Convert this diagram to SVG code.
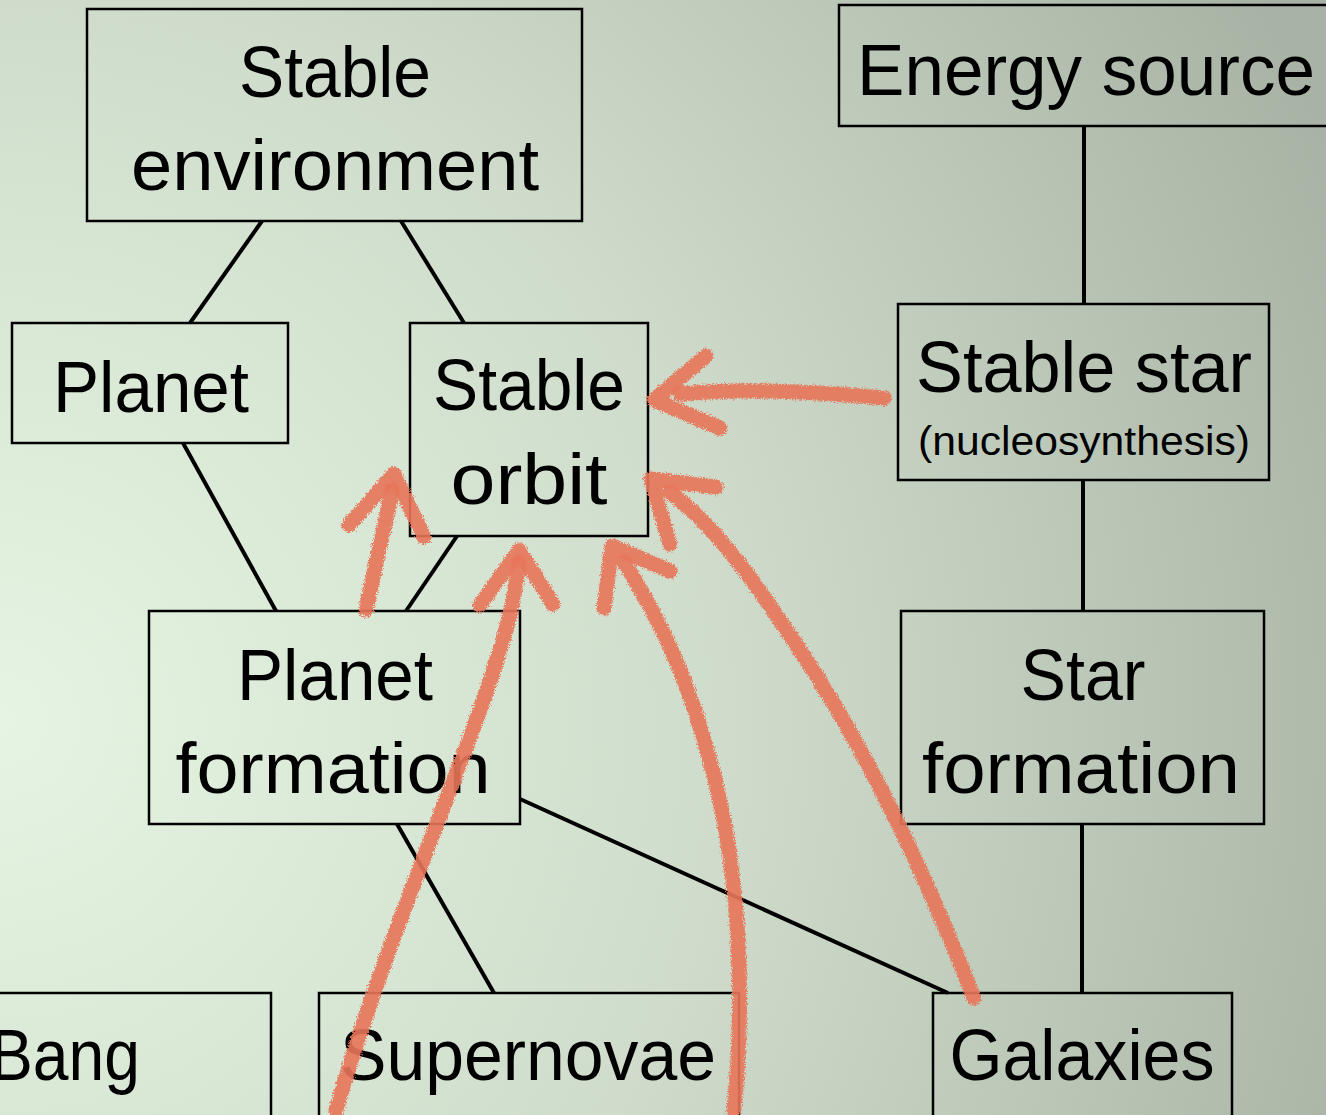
<svg xmlns="http://www.w3.org/2000/svg" width="1326" height="1115" viewBox="0 0 1326 1115">
<defs>
<radialGradient id="bg" gradientUnits="userSpaceOnUse" cx="0" cy="720" r="1450">
<stop offset="0" stop-color="#e6f5e3"/>
<stop offset="0.5" stop-color="#cfdccb"/>
<stop offset="1" stop-color="#a8b3a5"/>
</radialGradient>
<filter id="chalk" filterUnits="userSpaceOnUse" x="0" y="0" width="1326" height="1115">
<feTurbulence type="fractalNoise" baseFrequency="0.9" numOctaves="2" seed="3" result="n"/>
<feDisplacementMap in="SourceGraphic" in2="n" scale="7" xChannelSelector="R" yChannelSelector="G"/>
</filter>
<style>
.box{fill:none;stroke:#000;stroke-width:2.5}
.t{font-family:"Liberation Sans",Arial,sans-serif;font-size:72px;fill:#000;text-anchor:middle}
.s{font-family:"Liberation Sans",Arial,sans-serif;font-size:40px;fill:#000;text-anchor:middle}
.ln{stroke:#000;stroke-width:4;fill:none}
.ar{stroke:#e8765a;stroke-opacity:0.9;stroke-width:15;fill:none;stroke-linecap:round;stroke-linejoin:round;filter:url(#chalk)}
</style>
</defs>
<rect x="0" y="0" width="1326" height="1115" fill="url(#bg)"/>

<g id="connectors">
<line class="ln" x1="262" y1="221" x2="190" y2="323"/>
<line class="ln" x1="401" y1="221" x2="464" y2="323"/>
<line class="ln" x1="1084" y1="126" x2="1084" y2="304"/>
<line class="ln" x1="183" y1="443" x2="276" y2="611"/>
<line class="ln" x1="457" y1="536" x2="406" y2="611"/>
<line class="ln" x1="1083" y1="480" x2="1083" y2="611"/>
<line class="ln" x1="397" y1="824" x2="494" y2="993"/>
<line class="ln" x1="520" y1="799" x2="948" y2="993"/>
<line class="ln" x1="1082" y1="824" x2="1082" y2="993"/>
</g>

<g id="node-stable-environment">
<rect class="box" x="87" y="9" width="495" height="212"/>
<text class="t" x="335" y="97" textLength="192" lengthAdjust="spacingAndGlyphs">Stable</text>
<text class="t" x="335" y="190" textLength="408" lengthAdjust="spacingAndGlyphs">environment</text>
</g>
<g id="node-energy-source">
<rect class="box" x="839" y="5" width="495" height="121"/>
<text class="t" x="1086" y="95" textLength="458" lengthAdjust="spacingAndGlyphs">Energy source</text>
</g>
<g id="node-planet">
<rect class="box" x="12" y="323" width="276" height="120"/>
<text class="t" x="151" y="412" textLength="196" lengthAdjust="spacingAndGlyphs">Planet</text>
</g>
<g id="node-stable-orbit">
<rect class="box" x="410" y="323" width="238" height="213"/>
<text class="t" x="529" y="410" textLength="192" lengthAdjust="spacingAndGlyphs">Stable</text>
<text class="t" x="529" y="504" textLength="157" lengthAdjust="spacingAndGlyphs">orbit</text>
</g>
<g id="node-stable-star">
<rect class="box" x="898" y="304" width="371" height="176"/>
<text class="t" x="1084" y="392" textLength="336" lengthAdjust="spacingAndGlyphs">Stable star</text>
<text class="s" x="1084" y="455" textLength="332" lengthAdjust="spacingAndGlyphs">(nucleosynthesis)</text>
</g>
<g id="node-planet-formation">
<rect class="box" x="149" y="611" width="371" height="213"/>
<text class="t" x="335" y="700" textLength="196" lengthAdjust="spacingAndGlyphs">Planet</text>
<text class="t" x="333" y="793" textLength="315" lengthAdjust="spacingAndGlyphs">formation</text>
</g>
<g id="node-star-formation">
<rect class="box" x="901" y="611" width="363" height="213"/>
<text class="t" x="1083" y="700" textLength="125" lengthAdjust="spacingAndGlyphs">Star</text>
<text class="t" x="1081" y="793" textLength="318" lengthAdjust="spacingAndGlyphs">formation</text>
</g>
<g id="node-bang">
<rect class="box" x="-20" y="993" width="291" height="130"/>
<text class="t" x="65" y="1080" textLength="150" lengthAdjust="spacingAndGlyphs">Bang</text>
</g>
<g id="node-supernovae">
<rect class="box" x="319" y="993" width="420" height="130"/>
<text class="t" x="528" y="1080" textLength="376" lengthAdjust="spacingAndGlyphs">Supernovae</text>
</g>
<g id="node-galaxies">
<rect class="box" x="933" y="993" width="299" height="130"/>
<text class="t" x="1082" y="1080" textLength="265" lengthAdjust="spacingAndGlyphs">Galaxies</text>
</g>

<g id="arrows">
<path class="ar" d="M884,398 C820,392 740,388 680,394"/>
<path class="ar" d="M706,356 L654,400 L720,428"/>
<path class="ar" d="M366,610 C374,570 384,530 392,490"/>
<path class="ar" d="M349,525 L394,474 L424,537"/>
<path class="ar" d="M336,1110 C380,960 440,820 480,710 C505,640 515,600 519,562"/>
<path class="ar" d="M480,605 L519,550 L553,604"/>
<path class="ar" d="M734,1110 C745,1000 740,880 715,780 C690,680 660,620 624,562"/>
<path class="ar" d="M604,608 L612,546 L670,571"/>
<path class="ar" d="M974,998 C920,860 860,740 800,650 C760,590 720,530 670,492"/>
<path class="ar" d="M716,487 L651,479 L670,544"/>
</g>
</svg>
